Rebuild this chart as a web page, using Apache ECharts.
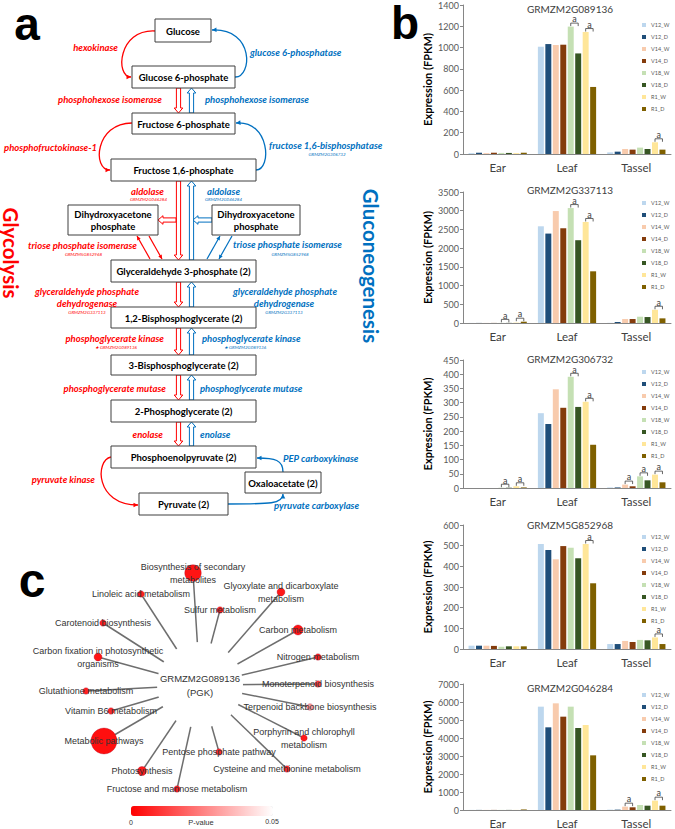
<!DOCTYPE html>
<html><head><meta charset="utf-8">
<script src="https://cdn.jsdelivr.net/npm/echarts@6/dist/echarts.min.js"></script>
<style>html,body{margin:0;padding:0;background:#fff}#c{width:675px;height:829px}</style>
</head><body><div id="c"></div>
<script>
// ================= DATA: panel b =================
const categories = ['Ear', 'Leaf', 'Tassel'];
const stages = ['V12_W', 'V12_D', 'V14_W', 'V14_D', 'V18_W', 'V18_D', 'R1_W', 'R1_D'];
const genes = ['GRMZM2G089136', 'GRMZM2G337113', 'GRMZM2G306732', 'GRMZM5G852968', 'GRMZM2G046284'];
const yMax = [1400, 3500, 450, 600, 7000];
const yStep = [200, 500, 50, 100, 1000];
// rows follow `stages`, columns follow `categories` (FPKM)
const g089136 = [[8,1008,15],[12,1033,22],[8,1024,47],[12,1027,41],[10,1197,60],[10,945,47],[8,1146,110],[12,630,41]];
const g337113 = [[2,2584,5],[2,2389,27],[2,2991,106],[2,2531,106],[3,3071,168],[3,2212,159],[10,2699,354],[35,1381,124]];
const g306732 = [[0,263,2],[0,225,2],[0,347,12],[0,282,6],[1,391,41],[1,285,27],[6,303,47],[2,152,20]];
const g852968 = [[16,508,24],[16,479,24],[16,434,39],[15,498,34],[11,490,44],[13,439,42],[13,508,56],[13,318,24]];
const g046284 = [[5,5741,20],[5,4593,20],[5,5926,185],[5,5185,150],[5,5741,278],[5,4556,240],[5,4722,519],[30,3037,240]];
// significance marks "a": [category index, W/D pair index (0=V12,1=V14,2=V18,3=R1)]
const sig089136 = [[1,2],[1,3],[2,3]];
const sig337113 = [[0,2],[0,3],[1,2],[1,3],[2,3]];
const sig306732 = [[0,2],[0,3],[1,2],[1,3],[2,1],[2,2],[2,3]];
const sig852968 = [[1,3],[2,3]];
const sig046284 = [[2,1],[2,3]];

// ================= DATA: panel c =================
const hubGene = 'GRMZM2G089136\n(PGK)';
const pathways = ['Biosynthesis of secondary\nmetabolites','Linoleic acid metabolism','Sulfur metabolism',
 'Glyoxylate and dicarboxylate\nmetabolism','Carotenoid biosynthesis','Carbon metabolism',
 'Carbon fixation in photosynthetic\norganisms','Nitrogen metabolism','Glutathione metabolism',
 'Monoterpenoid biosynthesis','Vitamin B6 metabolism','Terpenoid backbone biosynthesis','Metabolic pathways',
 'Porphyrin and chlorophyll\nmetabolism','Pentose phosphate pathway','Cysteine and methionine metabolism',
 'Photosynthesis','Fructose and mannose metabolism'];
const pValues = [0.004,0.006,0.006,0.005,0.006,0.004,0.004,0.006,0.006,0.012,0.008,0.032,0.003,0.005,0.008,0.008,0.005,0.006];
const geneCounts = [15,1,1,2,1,4,2,1,1,1,1,1,43,1,1,1,3,1];

// ================= layout (not data) =================
const W = 675, H = 829;
const grids = [{top:5,h:149},{top:192,h:131},{top:360,h:128},{top:525,h:124},{top:684,h:126}];
const titleY = [9,190,359,525,688];
const legendY = [22,200,369,534,692];
const colors = ['#bdd7ee','#1f4e79','#f8cbad','#843c0c','#c5e0b4','#375623','#ffe699','#7f6000'];
const geneData = [g089136, g337113, g306732, g852968, g046284];
const sigData = [sig089136, sig337113, sig306732, sig852968, sig046284];
// node positions for the network layout (pixel space of panel c)
const hubPos = [200, 685];
const nodePos = [[193,573],[141,594],[220,610],[281,592],[103,623],[298,630],[98,657],[318,657],[86,691],
 [318,684],[111,711],[310,707],[104,741],[304,738],[219,752],[287,769],[142,771],[177,789]];

const CAT_GAP = 0.16, BAR_GAP = 0.25;
const option = {animation:false, textStyle:{fontFamily:'Lato'},
  title:[], legend:[], grid:[], xAxis:[], yAxis:[], series:[], graphic:{elements:[]}};

for (let i = 0; i < 5; i++) {
  option.grid.push({left:463, width:208, top:grids[i].top, height:grids[i].h});
  option.xAxis.push({type:'category', gridIndex:i, data:categories,
    axisLine:{lineStyle:{color:'#868686'}}, axisTick:{length:3, lineStyle:{color:'#868686'}},
    axisLabel:{fontSize:11.5, color:'#404040', margin:7, fontFamily:'Lato'}});
  option.yAxis.push({type:'value', gridIndex:i, min:0, max:yMax[i], interval:yStep[i],
    name:'Expression (FPKM)', nameLocation:'middle', nameGap:30,
    nameTextStyle:{fontSize:11, fontWeight:'bold', color:'#000', fontFamily:'Lato'},
    axisLine:{show:true, lineStyle:{color:'#868686'}}, axisTick:{show:true, length:3, lineStyle:{color:'#868686'}},
    splitLine:{show:false}, axisLabel:{fontSize:9, color:'#595959', margin:4, fontFamily:'Lato', formatter:v => String(v)}});
  option.title.push({text:genes[i], left:570, top:titleY[i]-5, textAlign:'center', padding:0,
    textStyle:{fontSize:10, lineHeight:10, fontWeight:'normal', color:'#404040', fontFamily:'Lato'}});
  option.legend.push({data:stages, orient:'vertical', left:642, top:legendY[i], padding:0,
    itemWidth:4, itemHeight:4, itemGap:6, icon:'rect', selectedMode:false,
    textStyle:{fontSize:5.5, color:'#595959', lineHeight:6, fontFamily:'Lato'}});
  stages.forEach((s, k) => {
    option.series.push({type:'bar', name:s, xAxisIndex:i, yAxisIndex:i, data:geneData[i][k],
      itemStyle:{color:colors[k]}, barCategoryGap:(CAT_GAP*100)+'%', barGap:(BAR_GAP*100)+'%', silent:true});
  });
}
// significance brackets drawn with the bar layout of each axis
for (let i = 0; i < 5; i++) {
  const vals = geneData[i];
  option.series.push({type:'custom', xAxisIndex:i, yAxisIndex:i, silent:true, z:5,
    encode:{x:0, y:2},
    data: sigData[i].map(([c, p]) => [c, p, Math.max(vals[2*p][c], vals[2*p+1][c])]),
    renderItem: function (params, api) {
      const c = api.coord([api.value(0), api.value(2)]);
      const band = api.size([1, 0])[0];
      const gw = band * (1 - CAT_GAP);
      const w = gw / (8 + 7 * BAR_GAP);
      const x0 = c[0] - gw / 2;
      const p = api.value(1);
      const xa = x0 + 2 * p * (1 + BAR_GAP) * w + w / 2;
      const xb = x0 + (2 * p + 1) * (1 + BAR_GAP) * w + w / 2;
      const y = c[1] - 3.5;
      return {type:'group', children:[
        {type:'polyline', shape:{points:[[xa,y+3],[xa,y],[xb,y],[xb,y+3]]}, style:{stroke:'#404040', fill:null, lineWidth:0.8}},
        {type:'text', x:(xa+xb)/2, y:y-4.2, style:{text:'a', fill:'#404040', font:'9px Lato', lineHeight:6, align:'center', verticalAlign:'middle', textAlign:'center', textVerticalAlign:'middle'}}
      ]};
    }});
}

// ================= panel c: network =================
const allPos = nodePos.concat([hubPos]);
const bx0 = Math.min(...allPos.map(p => p[0])), bx1 = Math.max(...allPos.map(p => p[0]));
const by0 = Math.min(...allPos.map(p => p[1])), by1 = Math.max(...allPos.map(p => p[1]));
const nodes = [{id:'hub', name:hubGene, x:hubPos[0], y:hubPos[1], symbolSize:86,
  itemStyle:{color:'#ffffff', borderWidth:0}, label:{fontSize:9.5, lineHeight:14, color:'#333'}}];
pathways.forEach((p, k) => nodes.push({id:'p'+k, name:p, x:nodePos[k][0], y:nodePos[k][1], value:pValues[k],
  symbolSize: 3 + 3.5 * Math.sqrt(geneCounts[k])}));
option.series.push({type:'graph', layout:'none', left:bx0, top:by0, width:bx1-bx0, height:by1-by0, silent:true,
  data:nodes, links:pathways.map((p, k) => ({source:'hub', target:'p'+k})),
  lineStyle:{color:'#6e6e6e', width:1.5, opacity:1},
  itemStyle:{borderColor:'rgba(170,0,30,0.55)', borderWidth:0.6},
  label:{show:true, position:'inside', fontSize:9, lineHeight:13, color:'#333', fontFamily:'Liberation Sans'},
  emphasis:{disabled:true}});
option.visualMap = {type:'continuous', seriesIndex:option.series.length-1, min:0, max:0.05,
  inRange:{color:['#ff0000','#ffffff']}, orient:'horizontal', left:131, top:806, itemWidth:10, itemHeight:142,
  calculable:false, hoverLink:false, text:null, showLabel:false, padding:0};

// ================= panel a: pathway diagram =================
const RED = '#ff0000', BLUE = '#0070c0';
const G = option.graphic.elements;
const EF = 'italic bold 9.5px Lato', GF = 'italic 4.5px Lato';
function txt(t, x, y, c, align, font, extra, lh) {
  const st = {text:t, fill:c, font, align, verticalAlign:'middle', textAlign:align, textVerticalAlign:'middle'};
  if (lh) st.lineHeight = lh;
  G.push(Object.assign({type:'text', x, y, z:20, style:st}, extra||{}));
}
function box(x, y, w, h, t) {
  G.push({type:'rect', z:10, shape:{x, y, width:w, height:h}, style:{fill:'#fff', stroke:'#3f3f3f', lineWidth:1}});
  G.push({type:'text', z:11, x:x+w/2, y:y+h/2+0.5, style:{text:t, fill:'#000', font:'bold 9.5px Lato', lineHeight:12,
    align:'center', verticalAlign:'middle', textAlign:'center', textVerticalAlign:'middle'}});
}
function head(x, y, dx, dy, c, L, Wd) {
  L = L || 4.5; Wd = Wd || 2.3;
  const n = Math.hypot(dx, dy); dx /= n; dy /= n;
  const bx = x - dx * L, by = y - dy * L;
  G.push({type:'polygon', z:12, shape:{points:[[x,y],[bx-dy*Wd,by+dx*Wd],[bx+dy*Wd,by-dx*Wd]]}, style:{fill:c, stroke:null}});
}
function curve(p0, c1, c2, p3, c) {
  G.push({type:'bezierCurve', z:9, shape:{x1:p0[0], y1:p0[1], cpx1:c1[0], cpy1:c1[1], cpx2:c2[0], cpy2:c2[1], x2:p3[0], y2:p3[1]},
    style:{stroke:c, lineWidth:1.3, fill:'none'}});
  head(p3[0], p3[1], p3[0]-c2[0], p3[1]-c2[1], c);
}
function arrowLine(x1, y1, x2, y2, c) {
  G.push({type:'line', z:9, shape:{x1, y1, x2, y2}, style:{stroke:c, lineWidth:1.2}});
  head(x2, y2, x2-x1, y2-y1, c, 4, 2);
}
function hollow(x1, y1, x2, y2, c) {
  const dx = x2-x1, dy = y2-y1, n = Math.hypot(dx, dy), ux = dx/n, uy = dy/n, px = -uy, py = ux;
  const s = 2.1, h = 4.3, L = 5, bx = x2-ux*L, by = y2-uy*L;
  G.push({type:'polygon', z:8, shape:{points:[[x1+px*s,y1+py*s],[bx+px*s,by+py*s],[bx+px*h,by+py*h],[x2,y2],
    [bx-px*h,by-py*h],[bx-px*s,by-py*s],[x1-px*s,y1-py*s]]}, style:{fill:'#fff', stroke:c, lineWidth:1}});
}
// metabolites
const metabolites = ['Glucose','Glucose 6-phosphate','Fructose 6-phosphate','Fructose 1,6-phosphate',
  'Dihydroxyacetone\nphosphate','Dihydroxyacetone\nphosphate','Glyceraldehyde 3-phosphate (2)',
  '1,2-Bisphosphoglycerate (2)','3-Bisphosphoglycerate (2)','2-Phosphoglycerate (2)',
  'Phosphoenolpyruvate (2)','Oxaloacetate (2)','Pyruvate (2)'];
const boxLayout = [[155,19,56,23],[132,66,103,22],[132,113,103,21],[111,159,145,22],[68,205,90,30],[212,205,88,30],
  [111,260,145,22],[111,307,145,21],[111,355,145,20],[111,400,145,22],[111,446,145,22],[245,472,76,21],[139,493,89,22]];
// connectors
[[88,113],[181,260],[282,307],[328,355],[375,400],[422,446]].forEach(([a, b]) => {
  hollow(178.5, a, 178.5, b, RED); hollow(191.5, b, 191.5, a, BLUE);
});
hollow(176, 220, 158, 220, RED); hollow(212, 220, 193, 220, BLUE);
arrowLine(150, 259, 137, 236, RED); arrowLine(149, 236, 162, 259, RED);
arrowLine(207, 259, 220, 236, BLUE); arrowLine(232, 236, 219, 259, BLUE);
curve([155,31],[118,29],[115,77],[131,77], RED);
curve([235,77],[252,78],[255,28],[212,30], BLUE);
curve([132,123],[95,123],[92,170],[110,170], RED);
curve([256,170],[272,170],[270,120],[236,123], BLUE);
curve([111,457],[95,460],[95,505],[138,505], RED);
curve([228,504],[270,504],[283,504],[283,494], BLUE);
curve([283,472],[283,460],[275,458],[257,458], BLUE);
metabolites.forEach((m, k) => { const b = boxLayout[k]; box(b[0], b[1], b[2], b[3], m); });
// enzymes
txt('hexokinase', 118, 47, RED, 'right', EF);
txt('phosphohexose isomerase', 162, 99, RED, 'right', EF);
txt('phosphofructokinase-1', 97, 147, RED, 'right', EF);
txt('aldolase', 164, 191, RED, 'right', EF); txt('GRMZM2G046284', 167, 199, RED, 'right', GF);
txt('triose phosphate isomerase', 137, 245, RED, 'right', EF); txt('GRMZM5G852968', 102, 254, RED, 'right', GF);
txt('glyceraldehyde phosphate', 87, 291, RED, 'center', EF); txt('dehydrogenase', 87, 303, RED, 'center', EF);
txt('GRMZM2G337113', 87, 312, RED, 'center', GF);
txt('phosphoglycerate kinase', 164, 338, RED, 'right', EF); txt('\u2605 GRMZM2G089136', 137, 347, RED, 'right', GF);
txt('phosphoglycerate mutase', 166, 388, RED, 'right', EF);
txt('enolase', 163, 434, RED, 'right', EF);
txt('pyruvate kinase', 95, 479, RED, 'right', EF);
txt('glucose 6-phosphatase', 250, 52, BLUE, 'left', EF);
txt('phosphohexose isomerase', 205, 99, BLUE, 'left', EF);
txt('fructose 1,6-bisphosphatase', 269, 145, BLUE, 'left', EF); txt('GRMZM2G306732', 327, 154, BLUE, 'center', GF);
txt('aldolase', 207, 191, BLUE, 'left', EF); txt('GRMZM2G046284', 205, 199, BLUE, 'left', GF);
txt('triose phosphate isomerase', 233, 244, BLUE, 'left', EF); txt('GRMZM5G852968', 290, 254, BLUE, 'center', GF);
txt('glyceraldehyde phosphate', 285, 291, BLUE, 'center', EF); txt('dehydrogenase', 284, 303, BLUE, 'center', EF);
txt('GRMZM2G337113', 284, 312, BLUE, 'center', GF);
txt('phosphoglycerate kinase', 202, 338, BLUE, 'left', EF); txt('\u2605 GRMZM2G089136', 224, 347, BLUE, 'left', GF);
txt('phosphoglycerate mutase', 200, 388, BLUE, 'left', EF);
txt('enolase', 200, 434, BLUE, 'left', EF);
txt('PEP carboxykinase', 283, 458, BLUE, 'left', EF);
txt('pyruvate carboxylase', 274, 505, BLUE, 'left', EF);
txt('Glycolysis', 11, 253, RED, 'center', 'bold 20.5px Lato', {rotation:-Math.PI/2}, 17);
txt('Gluconeogenesis', 371, 266, BLUE, 'center', 'bold 20.5px Lato', {rotation:-Math.PI/2}, 17);
// panel letters
txt('a', 27, 24, '#000', 'center', 'bold 46px "Liberation Sans"', null, 34);
txt('b', 405, 23, '#000', 'center', 'bold 46px "Liberation Sans"', null, 34);
txt('c', 32, 580, '#000', 'center', 'bold 48px "Liberation Sans"', null, 34);
// colour bar captions
txt('0', 131, 822, '#333', 'center', '7px "Liberation Sans"');
txt('P-value', 201, 822, '#333', 'center', '7.5px "Liberation Sans"');
txt('0.05', 272, 821, '#333', 'center', '7px "Liberation Sans"');

const chart = echarts.init(document.getElementById('c'), null, {renderer:'svg', width:W, height:H});
chart.setOption(option);
</script></body></html>
